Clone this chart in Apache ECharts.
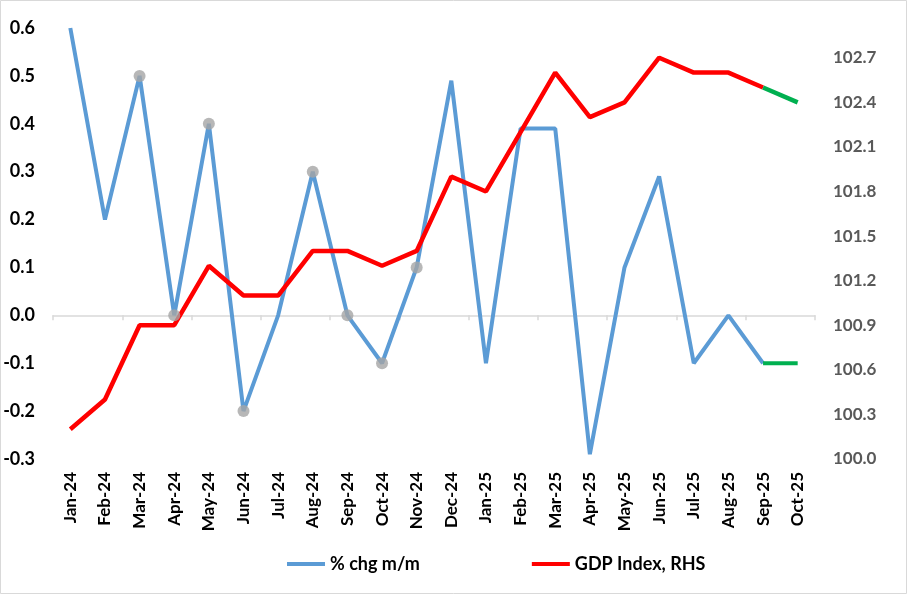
<!DOCTYPE html>
<html>
<head>
<meta charset="utf-8">
<script src="https://cdn.jsdelivr.net/npm/echarts@6/dist/echarts.min.js"></script>
<style>
html,body{margin:0;padding:0;background:#fff;}
#chart{width:907px;height:594px;}
</style>
</head>
<body>
<div id="chart"></div>
<script>
const categories = ['Jan-24','Feb-24','Mar-24','Apr-24','May-24','Jun-24','Jul-24','Aug-24','Sep-24','Oct-24','Nov-24','Dec-24',
  'Jan-25','Feb-25','Mar-25','Apr-25','May-25','Jun-25','Jul-25','Aug-25','Sep-25','Oct-25'];
const pctChg = [0.6,0.2,0.5,0.0,0.4,-0.2,0.0,0.3,0.0,-0.1,0.1,0.49,-0.1,0.39,0.39,-0.29,0.1,0.29,-0.1,0.0,-0.1,-0.1];
const gdpIndex = [100.2,100.4,100.9,100.9,101.3,101.1,101.1,101.4,101.4,101.3,101.4,101.9,101.8,102.2,102.6,102.3,102.4,102.7,102.6,102.6,102.5,102.4];
const markedIdx = [2,3,4,5,7,8,9,10];   // months with grey dots
const forecastStart = 20;               // Sep-25 onward drawn green

const font = 'Lato, "Liberation Sans", sans-serif';
const histPct = pctChg.map((v,i)=> i<=forecastStart ? v : null);
const fcPct = pctChg.map((v,i)=> i>=forecastStart ? v : null);
const histGdp = gdpIndex.map((v,i)=> i<=forecastStart ? v : null);
const fcGdp = gdpIndex.map((v,i)=> i>=forecastStart ? v : null);
const dots = pctChg.map((v,i)=> markedIdx.includes(i) ? v : null);

const chart = echarts.init(document.getElementById('chart'), null, {renderer:'canvas'});
chart.setOption({
  animation:false,
  backgroundColor:'#fff',
  graphic:[{type:'rect',shape:{x:0.5,y:0.5,width:906,height:593},style:{fill:'none',stroke:'#D9D9D9',lineWidth:1},silent:true}],
  grid:{left:53,right:92,top:28,bottom:135,containLabel:false},
  legend:{
    left:282, top:550, itemGap:112, itemWidth:38, itemHeight:4, icon:'rect',
    textStyle:{fontFamily:font,fontWeight:'bold',fontSize:18,color:'#000'},
    data:['% chg m/m','GDP Index, RHS']
  },
  xAxis:[
    {type:'category',data:categories,position:'bottom',boundaryGap:true,
     axisLine:{show:false,onZero:false},axisTick:{show:false},
     axisLabel:{rotate:90,interval:0,margin:13,fontFamily:font,fontWeight:'bold',fontSize:17,color:'#000'}},
    {type:'category',data:categories,position:'bottom',boundaryGap:true,
     axisLine:{show:true,onZero:true,onZeroAxisIndex:0,lineStyle:{color:'#D9D9D9',width:1.5}},
     axisTick:{show:true,length:5,inside:false,alignWithLabel:false,lineStyle:{color:'#D9D9D9',width:1.5}},
     axisLabel:{show:false}}
  ],
  yAxis:[
    {type:'value',min:-0.3,max:0.6,interval:0.1,position:'left',
     axisLine:{show:false},axisTick:{show:false},splitLine:{show:false},
     axisLabel:{margin:18,fontFamily:font,fontWeight:'bold',fontSize:18,color:'#000',
       formatter:v=>v.toFixed(1)}},
    {type:'value',min:100.0,max:102.9,interval:0.3,position:'right',
     axisLine:{show:false},axisTick:{show:false},splitLine:{show:false},
     axisLabel:{margin:18,showMaxLabel:false,fontFamily:font,fontWeight:'bold',fontSize:17,color:'#595959',
       formatter:v=>v.toFixed(1)}}
  ],
  series:[
    {name:'% chg m/m',type:'line',xAxisIndex:0,yAxisIndex:0,data:histPct,symbol:'none',
     lineStyle:{color:'#5B9BD5',width:4},itemStyle:{color:'#5B9BD5'},z:3},
    {name:'GDP Index, RHS',type:'line',xAxisIndex:0,yAxisIndex:1,data:histGdp,symbol:'none',
     lineStyle:{color:'#FF0000',width:4.5},itemStyle:{color:'#FF0000'},z:4},
    {name:'pctForecast',type:'line',xAxisIndex:0,yAxisIndex:0,data:fcPct,symbol:'none',
     lineStyle:{color:'#00B050',width:4},z:3},
    {name:'gdpForecast',type:'line',xAxisIndex:0,yAxisIndex:1,data:fcGdp,symbol:'none',
     lineStyle:{color:'#00B050',width:4.5},z:4},
    {name:'dots',type:'scatter',xAxisIndex:0,yAxisIndex:0,data:dots,symbol:'circle',symbolSize:12,
     itemStyle:{color:'#A5A5A5'},z:5}
  ]
});
</script>
</body>
</html>
